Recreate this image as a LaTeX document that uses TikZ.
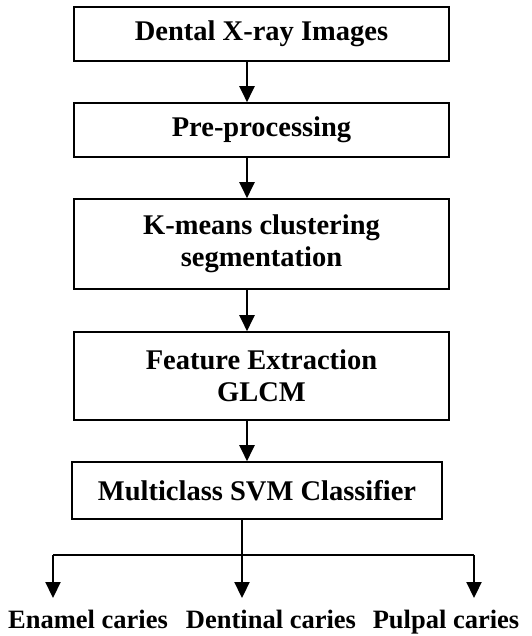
\documentclass[tikz,border=0pt]{standalone}
\usepackage{fontspec}
\setmainfont{Liberation Serif}
\usetikzlibrary{arrows.meta}
\begin{document}
\begin{tikzpicture}[x=1pt,y=-1pt,
  stepbox/.style={draw,line width=1.6pt,inner sep=0pt,align=center,
    font=\fontsize{28.5}{32}\selectfont\bfseries},
  arr/.style={line width=2.2pt,-{Triangle[width=15pt,length=16pt]}},
  conn/.style={line width=2.2pt},
  lbl/.style={anchor=base,inner sep=0pt,font=\fontsize{26.5}{30}\selectfont\bfseries}]
\useasboundingbox (0,0) rectangle (531,636);
\node[stepbox,minimum width=375pt,minimum height=54pt] (b1) at (261.5,34) {Dental X-ray Images};
\node[stepbox,minimum width=375pt,minimum height=54pt] (b2) at (261.5,130) {Pre-processing};
\node[stepbox,minimum width=375pt,minimum height=90pt] (b3) at (261.5,244) {K-means clustering\\segmentation};
\node[stepbox,minimum width=375pt,minimum height=88pt] (b4) at (261.5,376) {Feature Extraction\\GLCM};
\node[stepbox,minimum width=370pt,minimum height=57pt] (b5) at (257,490.5) {Multiclass SVM Classifier};
\coordinate (ax) at (247,0);
\coordinate (bx) at (242,0);
\coordinate (hy) at (242,555);
\coordinate (lx) at (53,555);
\coordinate (rx) at (474,555);
\node[lbl] (l1) at (88,628) {Enamel caries};
\node[lbl] (l2) at (271,628) {Dentinal caries};
\node[lbl] (l3) at (446,628) {Pulpal caries};
\coordinate (t1) at (53,598);
\coordinate (t2) at (242,598);
\coordinate (t3) at (474,598);
\draw[arr] (b1.south -| ax) -- (b2.north -| ax);
\draw[arr] (b2.south -| ax) -- (b3.north -| ax);
\draw[arr] (b3.south -| ax) -- (b4.north -| ax);
\draw[arr] (b4.south -| ax) -- (b5.north -| ax);
\draw[conn] (b5.south -| bx) -- (hy);
\draw[conn] (lx) -- (rx);
\draw[arr] (lx) -- (t1);
\draw[arr] (hy) -- (t2);
\draw[arr] (rx) -- (t3);
\end{tikzpicture}
\end{document}
